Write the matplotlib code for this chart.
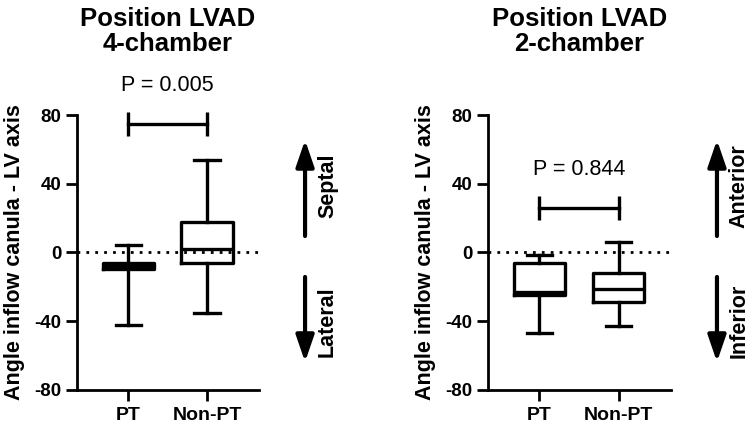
import matplotlib.pyplot as plt

plt.rcParams.update({
    "font.family": ["Liberation Sans", "DejaVu Sans"],
    "axes.linewidth": 2,
    "axes.unicode_minus": False,
})

groups = ["PT", "Non-PT"]

# box stats (whisker low, q1, median, q3, whisker high)
four_ch = {
    "PT": (-42, -9.5, -8, -6, 4.5),
    "Non-PT": (-35, -6, 2, 18, 54),
}
two_ch = {
    "PT": (-47, -25, -23, -6, -1.5),
    "Non-PT": (-43, -29, -21, -12, 6),
}
p_values = ["P = 0.005", "P = 0.844"]
bracket_y = [75, 26]
titles = ["Position LVAD\n4-chamber", "Position LVAD\n2-chamber"]
directions = [("Septal", "Lateral"), ("Anterior", "Inferior")]

fig = plt.figure(figsize=(7.49, 4.25), dpi=100)
ax1 = fig.add_axes([0.1028, 0.0824, 0.243, 0.647])
ax2 = fig.add_axes([0.6515, 0.0824, 0.244, 0.647])


def draw_panel(ax, data, pval, by, title, dirs):
    stats = []
    for g in groups:
        lo, q1, med, q3, hi = data[g]
        stats.append(dict(whislo=lo, q1=q1, med=med, q3=q3, whishi=hi,
                          fliers=[], label=g))
    lw = 2.4
    ax.bxp(stats, positions=[1, 2], widths=0.65, capwidths=0.32,
           showfliers=False,
           boxprops=dict(color="black", linewidth=lw),
           medianprops=dict(color="black", linewidth=lw),
           whiskerprops=dict(color="black", linewidth=lw),
           capprops=dict(color="black", linewidth=lw))
    ax.axhline(0, color="black", linestyle=(0, (1, 2.2)), linewidth=2,
               zorder=0)

    ax.set_xlim(0.35, 2.66)
    ax.set_ylim(-80, 80)
    ax.set_yticks([-80, -40, 0, 40, 80])
    ax.set_xticks([1, 2])
    ax.set_xticklabels(groups, fontsize=14, fontweight="bold")
    for lab in ax.get_yticklabels():
        lab.set_fontweight("bold")
        lab.set_fontsize(13.5)
    ax.tick_params(axis="both", direction="out", length=8, width=2, pad=3)
    ax.tick_params(axis="x", pad=4)
    for s in ("top", "right"):
        ax.spines[s].set_visible(False)
    ax.set_ylabel("Angle inflow canula - LV axis", fontsize=15.5,
                  fontweight="bold", labelpad=7)

    # significance bracket
    ax.plot([1, 2], [by, by], color="black", linewidth=lw, clip_on=False)
    for x in (1, 2):
        ax.plot([x, x], [by - 7, by + 7], color="black", linewidth=lw,
                clip_on=False, solid_capstyle="butt")
    ax.text(1.5, by + 19, pval, ha="center", va="baseline", fontsize=15.5)

    ax.set_title(title, fontsize=18.5, fontweight="bold", pad=46,
                 linespacing=1.05)

    # direction arrows on the right
    style = "-|>,head_width=0.55,head_length=1.6"
    ax.annotate("", xy=(1.253, 0.909), xytext=(1.253, 0.56),
                xycoords="axes fraction",
                arrowprops=dict(arrowstyle=style, color="black", lw=3,
                                shrinkA=0, shrinkB=0))
    ax.annotate("", xy=(1.253, 0.102), xytext=(1.253, 0.411),
                xycoords="axes fraction",
                arrowprops=dict(arrowstyle=style, color="black", lw=3,
                                shrinkA=0, shrinkB=0))
    ax.text(1.376, 0.742, dirs[0], transform=ax.transAxes, rotation=90,
            ha="center", va="center", fontsize=15.5, fontweight="bold")
    ax.text(1.376, 0.25, dirs[1], transform=ax.transAxes, rotation=90,
            ha="center", va="center", fontsize=15.5, fontweight="bold")


draw_panel(ax1, four_ch, p_values[0], bracket_y[0], titles[0], directions[0])
draw_panel(ax2, two_ch, p_values[1], bracket_y[1], titles[1], directions[1])

fig.savefig("out.png", dpi=100)
